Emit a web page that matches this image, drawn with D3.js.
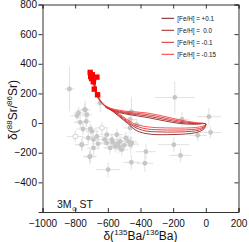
<!DOCTYPE html>
<html>
<head>
<meta charset="utf-8">
<script src="https://cdn.jsdelivr.net/npm/d3@7"></script>
<style>
  body { margin: 0; background: #fff; }
  svg { display: block; font-family: "Liberation Sans", Arial, sans-serif; }
</style>
</head>
<body>
<div id="chart"></div>
<script>
// grain data: [d135Ba, d88Sr, errX, errY, open]
const grains = [
  [-835, 230, 30, 150, 0], [-190, 173, 123, 110, 0], [19, 43, 73, 60, 0],
  [-456, 77, 40, 100, 0], [-146, 25, 40, 50, 0], [-50, -83, 55, 40, 0],
  [29, -63, 68, 40, 0], [-196, -146, 97, 50, 0], [-155, -218, 66, 45, 0],
  [-367, -193, 60, 50, 0], [-460, -146, 50, 60, 0], [-456, -265, 50, 50, 0],
  [-373, -271, 50, 60, 0], [-598, -314, 75, 50, 0],
  [-789, 50, 40, 40, 0], [-738, 90, 30, 60, 0], [-728, 56, 30, 40, 0],
  [-769, 5, 40, 40, 0], [-732, 11, 30, 40, 0], [-752, -40, 40, 40, 0],
  [-708, -40, 40, 40, 0], [-799, -90, 50, 40, 1], [-636, -33, 40, 40, 1],
  [-647, 135, 30, 60, 0], [-697, -56, 40, 40, 0], [-667, -90, 40, 40, 0],
  [-688, -168, 40, 50, 0], [-758, -146, 40, 40, 0], [-708, -224, 40, 50, 0],
  [-576, -112, 40, 40, 0], [-545, -78, 40, 40, 0], [-525, -123, 50, 40, 0],
  [-555, -157, 40, 40, 0], [-586, -168, 40, 40, 0], [-515, -179, 40, 40, 0],
  [-606, -78, 40, 40, 0], [-474, -123, 50, 40, 0], [-464, 23, 40, 60, 0],
  [-688, -112, 40, 40, 0], [-606, -134, 40, 40, 0], [-742, 90, 30, 40, 0],
  [-779, 68, 30, 40, 0], [-464, -33, 40, 40, 0], [-423, -11, 40, 40, 0],
  [-454, -134, 40, 40, 0], [-761, -146, 40, 40, 0], [-712, -228, 40, 40, 0],
  [-540, -140, 40, 40, 0], [-500, -150, 40, 40, 0], [-570, -130, 40, 40, 0],
  [-490, -100, 40, 40, 0], [-620, -110, 40, 40, 0], [-660, -140, 40, 40, 0],
  [-720, -100, 40, 40, 0], [-530, -160, 40, 40, 0]
];

// model curves, ordered by metallicity
const fehLabels = ['[Fe/H] = +0.1', '[Fe/H] =  0.0', '[Fe/H] = -0.1', '[Fe/H] = -0.15'];
const curveColors = ['#861818', '#a82020', '#dd2626', '#ff3535'];

const curveP01 = [
  [-708, 342], [-699, 300], [-688, 262], [-676, 220], [-664, 180], [-645, 145], [-622, 118],
  [-600, 105], [-567, 77], [-535, 48], [-505, 21], [-470, -10], [-440, -40], [-410, -58],
  [-360, -72], [-300, -78], [-233, -78], [-158, -76], [-90, -70], [-40, -58], [-12, -40],
  [-2, -18], [1, -6],
  [-67, -8], [-158, -3], [-250, 14], [-360, 38], [-483, 60], [-568, 82], [-610, 104]
];
const curveP00 = [
  [-695, 326], [-690, 290], [-682, 255], [-672, 215], [-662, 180], [-643, 145], [-620, 118],
  [-600, 105], [-567, 80], [-535, 54], [-505, 28], [-470, -2], [-440, -24], [-410, -40],
  [-360, -55], [-300, -59], [-233, -61], [-158, -60], [-90, -56], [-40, -47], [-12, -32],
  [-2, -16], [1, -6],
  [-67, -4], [-158, 5], [-250, 24], [-360, 48], [-483, 66], [-568, 87], [-613, 106]
];
const curveM01 = [
  [-680, 312], [-684, 280], [-678, 245], [-670, 210], [-660, 178], [-641, 143], [-618, 118],
  [-600, 107], [-567, 84], [-535, 60], [-505, 35], [-470, 6], [-440, -14], [-410, -27],
  [-360, -40], [-300, -45], [-233, -47], [-158, -47], [-90, -44], [-40, -37], [-12, -25],
  [-2, -13], [1, -6],
  [-67, 0], [-158, 13], [-250, 34], [-360, 58], [-483, 72], [-568, 91], [-615, 108]
];
const curveM015 = [
  [-667, 306], [-676, 270], [-673, 235], [-667, 200], [-657, 172], [-638, 140], [-617, 118],
  [-600, 108], [-567, 88], [-535, 66], [-505, 42], [-470, 15], [-440, -3], [-410, -15],
  [-360, -25], [-300, -31], [-233, -33], [-158, -34], [-90, -32], [-40, -27], [-12, -18],
  [-2, -10], [1, -6],
  [-67, 4], [-158, 21], [-250, 44], [-360, 68], [-483, 79], [-568, 95], [-617, 110]
];
const curves = [curveP01, curveP00, curveM01, curveM015];

// C>O pulses
const carbonRich = [
  [-708, 342], [-695, 326], [-667, 310], [-699, 300], [-705, 314],
  [-689, 278], [-683, 229], [-663, 191]
];

const xTicks = [-1000, -800, -600, -400, -200, 0, 200];
const yTicks = [-400, -200, 0, 200, 400, 600, 800];

const width = 249, height = 242;
const x = d3.scaleLinear().domain([-1000, 200]).range([42.5, 238.5]);
const y = d3.scaleLinear().domain([-600, 800]).range([212, 4.5]);

const svg = d3.select('#chart').append('svg')
  .attr('width', width)
  .attr('height', height);

// error bars
const eb = svg.append('g').attr('stroke', '#dedede').attr('stroke-width', 0.9);
grains.forEach(d => {
  eb.append('line')
    .attr('x1', x(d[0] - d[2])).attr('x2', x(d[0] + d[2]))
    .attr('y1', y(d[1])).attr('y2', y(d[1]));
  eb.append('line')
    .attr('x1', x(d[0])).attr('x2', x(d[0]))
    .attr('y1', y(d[1] - d[3])).attr('y2', y(d[1] + d[3]));
});

svg.append('g').selectAll('circle')
  .data(grains)
  .join('circle')
  .attr('cx', d => x(d[0]))
  .attr('cy', d => y(d[1]))
  .attr('r', 2.4)
  .attr('fill', d => d[4] ? '#fff' : '#c6c6c6')
  .attr('stroke', d => d[4] ? '#c6c6c6' : 'none')
  .attr('stroke-width', 0.8);

// model lines
const line = d3.line()
  .x(d => x(d[0]))
  .y(d => y(d[1]))
  .curve(d3.curveCatmullRom);

curves.forEach((c, i) => {
  svg.append('path')
    .attr('d', line(c))
    .attr('fill', 'none')
    .attr('stroke', curveColors[i])
    .attr('stroke-width', 0.85);
});

svg.append('g').selectAll('rect')
  .data(carbonRich)
  .join('rect')
  .attr('x', d => x(d[0]) - 2.7)
  .attr('y', d => y(d[1]) - 2.7)
  .attr('width', 5.4)
  .attr('height', 5.4)
  .attr('fill', '#f00');

// frame and axes
const axisColor = '#333';
const fmt = d => d < 0 ? '\u2212' + Math.abs(d) : d;
const axBottom = svg.append('g')
  .attr('transform', `translate(0,${y.range()[0]})`)
  .call(d3.axisBottom(x).tickValues(xTicks).tickSize(-4).tickPadding(8).tickFormat(fmt));
const axLeft = svg.append('g')
  .attr('transform', `translate(${x.range()[0]},0)`)
  .call(d3.axisLeft(y).tickValues(yTicks).tickSize(4).tickPadding(1.5).tickFormat(fmt));
const axTop = svg.append('g')
  .attr('transform', `translate(0,${y.range()[1]})`)
  .call(d3.axisTop(x).tickValues(xTicks).tickSize(-4).tickFormat(''));
const axRight = svg.append('g')
  .attr('transform', `translate(${x.range()[1]},0)`)
  .call(d3.axisRight(y).tickValues(yTicks).tickSize(-4).tickFormat(''));

[axBottom, axLeft, axTop, axRight].forEach(g => {
  g.select('.domain').attr('stroke', axisColor).attr('stroke-width', 1);
  g.selectAll('.tick line').attr('stroke', axisColor);
  g.selectAll('text').attr('fill', '#111').attr('font-size', 10)
    .attr('font-family', '"Liberation Sans", Arial, sans-serif');
});

// axis titles
const xt = svg.append('text')
  .attr('x', 140.5).attr('y', 239.5)
  .attr('text-anchor', 'middle')
  .attr('font-size', 12).attr('fill', '#111');
xt.append('tspan').text('\u03b4(');
xt.append('tspan').attr('font-size', 8).attr('dy', -4.5).text('135');
xt.append('tspan').attr('dy', 4.5).text('Ba/');
xt.append('tspan').attr('font-size', 8).attr('dy', -4.5).text('136');
xt.append('tspan').attr('dy', 4.5).text('Ba)');

const yt = svg.append('text')
  .attr('transform', 'translate(16.5,110) rotate(-90)')
  .attr('text-anchor', 'middle')
  .attr('font-size', 12).attr('fill', '#111');
yt.append('tspan').text('\u03b4(');
yt.append('tspan').attr('font-size', 8).attr('dy', -4.5).text('88');
yt.append('tspan').attr('dy', 4.5).text('Sr/');
yt.append('tspan').attr('font-size', 8).attr('dy', -4.5).text('86');
yt.append('tspan').attr('dy', 4.5).text('Sr)');

// model label
const ml = svg.append('text')
  .attr('x', 57).attr('y', 208)
  .attr('font-size', 10.5).attr('fill', '#111');
ml.append('tspan').text('3M');
ml.append('tspan').attr('font-size', 6).attr('dy', 2.5).text('\u2299');
ml.append('tspan').attr('dy', -2.5).text(' ST');

// legend
const legend = svg.append('g');
fehLabels.forEach((lab, i) => {
  const ly = 18.3 + i * 12;
  legend.append('line')
    .attr('x1', 161.5).attr('x2', 174)
    .attr('y1', ly).attr('y2', ly)
    .attr('stroke', curveColors[i]).attr('stroke-width', 1);
  legend.append('text')
    .attr('x', 177.3).attr('y', ly + 2.2)
    .attr('font-size', 6.3).attr('fill', '#111')
    .style('white-space', 'pre')
    .text(lab);
});
</script>
</body>
</html>
